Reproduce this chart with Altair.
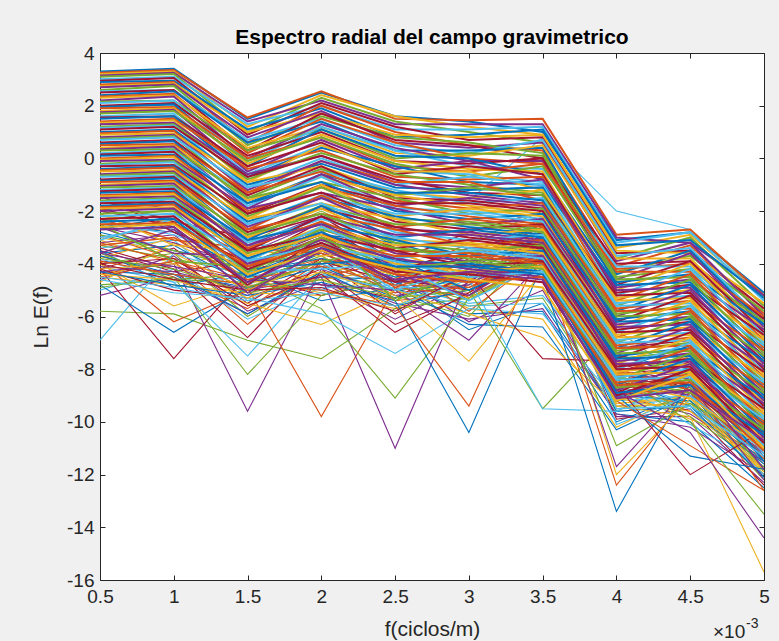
import altair as alt
import pandas as pd

freqs = [0.5, 1.0, 1.5, 2.0, 2.5, 3.0, 3.5, 4.0, 4.5, 5.0]
y_ticks = [-16, -14, -12, -10, -8, -6, -4, -2, 0, 2, 4]
matlab_colors = ["#0072BD", "#D95319", "#EDB120", "#7E2F8E", "#77AC30", "#4DBEEE", "#A2142F"]

upper = [
    [3.3, 3.4, 1.5, 2.5, 1.6, 1.4, 1.0, -3.1, -2.8, -5.1],
    [3.25, 3.35, 1.55, 2.55, 1.5, 1.45, 1.5, -2.9, -2.7, -5.2],
    [3.2, 3.3, 1.2, 2.4, 1.6, 1.2, 0.9, -3.4, -2.9, -5.3],
    [3.15, 3.25, 1.4, 2.2, 1.3, 1.3, 1.3, -3.0, -3.2, -5.2],
    [3.1, 3.2, 1.0, 2.3, 1.4, 1.0, 0.6, -3.8, -3.0, -5.6],
    [3.0, 3.1, 1.3, 2.0, 1.1, 1.1, 1.2, -3.2, -2.8, -5.4],
    [2.95, 3.05, 0.9, 2.1, 1.2, 0.7, 0.8, -3.6, -3.5, -5.7],
    [2.9, 2.95, 1.1, 1.9, 0.8, 0.9, 1.1, -3.3, -3.1, -5.3],
    [2.8, 2.9, 0.6, 2.0, 1.0, 0.5, 0.3, -4.1, -3.3, -5.9],
    [2.75, 2.85, 1.0, 1.7, 0.9, 0.8, 0.9, -3.5, -3.6, -5.5],
    [2.7, 2.8, 0.8, 1.8, 0.6, 0.4, 0.6, -3.9, -3.2, -6.0],
    [2.6, 2.75, 0.5, 1.6, 0.8, 0.6, 0.2, -4.3, -3.7, -5.8],
    [2.55, 2.6, 0.7, 1.5, 0.5, 0.2, 0.7, -3.7, -3.4, -6.2],
    [2.5, 2.6, 0.3, 1.7, 0.7, 0.5, 0.0, -4.0, -3.9, -6.1],
    [2.4, 2.55, 0.6, 1.4, 0.3, 0.3, 0.4, -4.4, -3.5, -6.3],
    [2.35, 2.45, 0.2, 1.5, 0.6, 0.0, -0.2, -4.2, -4.0, -6.0],
    [2.3, 2.4, 0.4, 1.2, 0.2, 0.1, 0.5, -3.8, -3.8, -6.5],
    [2.2, 2.35, 0.0, 1.3, 0.4, -0.1, -0.1, -4.6, -3.6, -6.4],
    [2.15, 2.2, 0.3, 1.1, 0.0, 0.2, 0.1, -4.5, -4.2, -6.2],
    [2.1, 2.2, -0.1, 1.2, 0.3, -0.3, -0.4, -4.1, -4.1, -6.7],
    [2.0, 2.1, 0.1, 1.0, -0.1, -0.2, 0.0, -4.8, -3.9, -6.6],
    [1.95, 2.05, -0.3, 1.1, 0.1, 0.0, -0.6, -4.7, -4.4, -6.3],
    [1.9, 1.95, 0.0, 0.8, -0.3, -0.5, -0.2, -4.3, -4.3, -6.9],
    [1.8, 1.9, -0.2, 0.9, -0.1, -0.4, -0.5, -5.0, -4.0, -6.8],
    [1.75, 1.85, -0.5, 0.7, -0.4, -0.1, -0.8, -4.9, -4.6, -6.5],
    [1.7, 1.8, -0.1, 0.8, -0.2, -0.7, -0.3, -4.6, -4.5, -7.1],
    [1.6, 1.7, -0.6, 0.5, -0.5, -0.6, -0.9, -5.2, -4.2, -7.0],
    [1.55, 1.6, -0.3, 0.6, -0.6, -0.3, -0.6, -5.1, -4.8, -6.7],
    [1.5, 1.6, -0.7, 0.4, -0.3, -0.9, -1.0, -4.8, -4.7, -7.3],
    [1.4, 1.5, -0.4, 0.3, -0.7, -0.8, -0.7, -5.4, -4.4, -7.2],
    [1.35, 1.45, -0.9, 0.5, -0.5, -0.5, -1.2, -5.3, -5.0, -6.9],
    [1.3, 1.35, -0.6, 0.1, -0.9, -1.1, -0.8, -5.0, -4.9, -7.5],
    [1.2, 1.3, -0.8, 0.2, -0.6, -1.0, -1.3, -5.6, -4.6, -7.4],
    [1.15, 1.25, -1.1, 0.0, -1.0, -0.7, -1.0, -5.5, -5.2, -7.1],
    [1.1, 1.2, -0.7, 0.1, -0.8, -1.3, -1.4, -5.2, -5.1, -7.7],
    [1.0, 1.1, -1.0, -0.2, -1.1, -1.2, -1.1, -5.8, -4.8, -7.6],
    [0.95, 1.05, -1.3, -0.1, -0.9, -0.9, -1.6, -5.7, -5.4, -7.3],
    [0.9, 0.95, -0.9, -0.3, -1.3, -1.5, -1.2, -5.4, -5.3, -7.9],
    [0.8, 0.9, -1.2, -0.1, -1.0, -1.4, -1.7, -6.0, -5.0, -7.8],
    [0.75, 0.85, -1.5, -0.4, -1.4, -1.1, -1.4, -5.9, -5.6, -7.5],
    [0.7, 0.8, -1.1, -0.5, -1.2, -1.7, -1.5, -5.6, -5.5, -8.1],
    [0.6, 0.7, -1.4, -0.3, -1.5, -1.6, -1.9, -6.2, -5.2, -8.0],
    [0.55, 0.65, -1.7, -0.6, -1.3, -1.3, -1.6, -6.1, -5.8, -7.7],
    [0.5, 0.55, -1.3, -0.5, -1.6, -1.9, -1.7, -5.8, -5.7, -8.3],
    [0.4, 0.5, -1.6, -0.7, -1.4, -1.8, -2.1, -6.4, -5.4, -8.2],
    [0.35, 0.45, -1.9, -0.6, -1.8, -1.5, -1.8, -6.3, -6.0, -7.9],
    [0.3, 0.35, -1.5, -0.9, -1.5, -2.1, -1.9, -6.0, -5.9, -8.5],
    [0.2, 0.3, -1.8, -0.7, -1.9, -2.0, -2.3, -6.6, -5.6, -8.4],
    [0.15, 0.25, -2.1, -1.0, -1.7, -1.7, -2.0, -6.5, -6.2, -8.1],
    [0.1, 0.15, -1.7, -0.9, -2.0, -2.3, -2.1, -6.2, -6.1, -8.7],
    [0.0, 0.1, -2.0, -1.1, -1.8, -2.2, -2.5, -6.8, -5.8, -8.6],
    [-0.05, 0.05, -2.3, -1.0, -2.2, -1.9, -2.2, -6.7, -6.4, -8.3],
    [-0.1, -0.05, -1.9, -1.3, -1.9, -2.5, -2.3, -6.4, -6.3, -8.9],
    [-0.2, -0.1, -2.2, -1.1, -2.3, -2.4, -2.7, -7.0, -6.0, -8.8],
    [-0.25, -0.15, -2.5, -1.4, -2.1, -2.1, -2.4, -6.9, -6.6, -8.5],
    [-0.3, -0.25, -2.1, -1.3, -2.4, -2.7, -2.5, -6.6, -6.5, -9.1],
    [-0.4, -0.3, -2.4, -1.5, -2.2, -2.6, -2.9, -7.2, -6.2, -9.0],
    [-0.45, -0.35, -2.7, -1.4, -2.6, -2.3, -2.6, -7.1, -6.8, -8.7],
    [-0.5, -0.45, -2.3, -1.7, -2.3, -2.9, -2.7, -6.8, -6.7, -9.3],
    [-0.6, -0.5, -2.6, -1.5, -2.7, -2.8, -3.1, -7.4, -6.4, -9.2],
    [-0.65, -0.55, -2.9, -1.8, -2.5, -2.5, -2.8, -7.3, -7.0, -8.9],
    [-0.7, -0.65, -2.5, -1.7, -2.8, -3.1, -2.9, -7.0, -6.9, -9.5],
    [-0.8, -0.7, -2.8, -1.9, -2.6, -3.0, -3.3, -7.6, -6.6, -9.4],
    [-0.85, -0.75, -3.1, -1.8, -3.0, -2.7, -3.0, -7.5, -7.2, -9.1],
    [-0.9, -0.85, -2.7, -2.1, -2.7, -3.3, -3.1, -7.2, -7.1, -9.7],
    [-1.0, -0.9, -3.0, -1.9, -3.1, -3.2, -3.5, -7.8, -6.8, -9.6],
    [-1.05, -0.95, -3.3, -2.2, -2.9, -2.9, -3.2, -7.7, -7.4, -9.3],
    [-1.1, -1.05, -2.9, -2.1, -3.2, -3.5, -3.3, -7.4, -7.3, -9.9],
    [-1.2, -1.1, -3.2, -2.3, -3.0, -3.4, -3.7, -8.0, -7.0, -9.8],
    [-1.25, -1.15, -3.5, -2.2, -3.4, -3.1, -3.4, -7.9, -7.6, -9.5],
    [-1.3, -1.25, -3.1, -2.5, -3.1, -3.7, -3.5, -7.6, -7.5, -10.1],
    [-1.4, -1.3, -3.4, -2.4, -3.5, -3.6, -3.9, -8.2, -7.2, -10.0],
    [-1.45, -1.35, -3.7, -2.6, -3.3, -3.3, -3.6, -8.1, -7.8, -9.7],
    [-1.5, -1.45, -3.3, -2.5, -3.6, -3.9, -3.7, -7.8, -7.7, -10.3],
    [-1.6, -1.5, -3.6, -2.7, -3.4, -3.8, -4.1, -8.4, -7.4, -10.2],
    [-1.65, -1.55, -3.9, -2.6, -3.8, -3.5, -3.8, -8.3, -8.0, -9.9],
    [-1.7, -1.65, -3.5, -2.9, -3.5, -4.1, -3.9, -8.0, -7.9, -10.5],
    [-1.8, -1.7, -3.8, -2.8, -3.9, -4.0, -4.3, -8.6, -7.6, -10.4],
    [-1.85, -1.75, -4.1, -3.0, -3.7, -3.7, -4.0, -8.5, -8.2, -10.1],
    [-1.9, -1.85, -3.7, -2.9, -4.0, -4.3, -4.1, -8.2, -8.1, -10.7],
    [-2.0, -1.9, -4.0, -3.1, -3.8, -4.2, -4.5, -8.8, -7.8, -10.6],
    [-2.1, -2.0, -4.3, -3.0, -4.2, -3.9, -4.2, -8.7, -8.4, -10.3],
    [-2.2, -2.1, -3.9, -3.3, -3.9, -4.5, -4.3, -8.4, -8.3, -10.9],
    [-2.3, -2.2, -4.2, -3.2, -4.3, -4.4, -4.7, -9.0, -8.0, -10.8],
    [-2.4, -2.3, -4.5, -3.4, -4.1, -4.1, -4.4, -8.9, -8.6, -10.5],
    [-2.5, -2.45, -4.1, -3.3, -4.4, -4.7, -4.5, -8.6, -8.5, -11.1],
    [-2.6, -2.5, -4.4, -3.5, -4.2, -4.6, -4.9, -9.2, -8.2, -11.0],
    [-2.7, -2.6, -4.7, -3.4, -4.6, -4.3, -4.6, -9.1, -8.8, -10.7],
]

middle = [
    [-1.6, -2.4, -3.0, -2.2, -3.9, -2.8, -2.0, -7.2, -6.9, -9.4],
    [-2.0, -1.5, -3.8, -2.9, -3.2, -4.0, -3.0, -8.0, -7.1, -10.0],
    [-2.3, -3.1, -3.4, -3.6, -4.6, -3.2, -2.4, -7.8, -8.1, -10.4],
    [-1.8, -2.0, -4.4, -2.6, -3.6, -4.4, -3.6, -8.6, -7.5, -9.8],
    [-2.6, -3.6, -3.7, -2.8, -4.1, -4.7, -2.9, -7.4, -8.4, -10.9],
    [-2.4, -1.9, -4.9, -3.9, -3.4, -3.6, -3.2, -8.3, -8.9, -10.2],
    [-3.0, -2.5, -3.3, -3.3, -5.0, -4.1, -2.2, -7.0, -7.9, -11.2],
    [-1.4, -2.8, -3.9, -2.4, -4.3, -3.4, -3.4, -8.9, -7.7, -10.6],
    [-2.7, -2.2, -4.2, -4.0, -3.8, -5.0, -3.8, -9.2, -8.0, -11.5],
    [-3.3, -3.0, -4.7, -3.2, -4.9, -3.9, -2.6, -8.0, -8.8, -10.3],
    [-2.1, -3.3, -3.5, -3.7, -3.5, -4.6, -3.1, -8.5, -9.1, -11.0],
    [-3.6, -2.7, -5.1, -3.5, -4.4, -5.2, -3.5, -9.0, -8.2, -11.8],
    [-2.5, -3.9, -4.1, -2.7, -5.4, -4.2, -2.3, -7.6, -7.3, -10.1],
    [-3.1, -2.3, -4.3, -4.2, -4.0, -5.4, -4.0, -9.5, -9.4, -11.3],
    [-1.9, -2.6, -4.8, -3.0, -4.7, -3.7, -2.8, -8.2, -8.6, -10.7],
]

lower = [
    [-2.8, -3.5, -4.0, -3.0, -4.8, -3.6, -2.5, -7.5, -8.0, -11.0],
    [-3.0, -2.6, -4.6, -3.8, -4.2, -4.9, -3.3, -8.8, -7.4, -10.2],
    [-3.1, -4.0, -3.6, -4.4, -3.7, -5.3, -3.9, -9.3, -9.0, -11.6],
    [-3.2, -2.9, -5.0, -3.5, -5.1, -4.2, -2.8, -8.1, -8.6, -10.8],
    [-3.3, -3.8, -4.4, -3.1, -4.5, -5.6, -5.3, -9.6, -8.3, -11.9],
    [-3.4, -3.1, -5.4, -4.1, -3.9, -4.6, -3.5, -8.4, -9.3, -11.2],
    [-3.5, -4.3, -3.9, -4.8, -5.3, -3.8, -2.6, -7.9, -7.7, -10.6],
    [-3.6, -3.3, -4.8, -3.6, -4.7, -5.9, -5.8, -10.0, -8.9, -12.1],
    [-3.7, -4.5, -5.7, -3.9, -4.0, -5.0, -3.1, -8.6, -9.6, -11.4],
    [-3.8, -3.0, -4.2, -4.6, -5.6, -4.4, -3.7, -9.1, -8.1, -10.9],
    [-3.9, -4.1, -5.2, -3.4, -4.4, -6.2, -5.0, -9.8, -9.8, -12.3],
    [-4.0, -3.6, -6.0, -4.3, -5.0, -4.8, -2.9, -8.3, -8.7, -11.3],
    [-4.1, -4.7, -4.5, -5.0, -4.1, -5.4, -3.4, -9.4, -9.1, -11.8],
    [-4.2, -3.4, -5.5, -3.8, -5.9, -4.3, -4.3, -8.9, -8.4, -10.7],
    [-4.3, -4.4, -4.9, -4.5, -4.6, -6.5, -5.5, -9.7, -10.0, -12.5],
    [-4.4, -3.9, -6.3, -4.0, -5.4, -5.1, -3.0, -8.7, -9.4, -11.1],
    [-4.5, -4.8, -5.1, -5.2, -4.3, -5.7, -6.1, -10.2, -8.8, -12.0],
    [-4.6, -3.7, -5.8, -4.7, -6.1, -4.7, -3.8, -9.0, -9.7, -11.5],
    [-4.8, -4.6, -4.7, -3.7, -5.2, -6.0, -3.2, -9.5, -9.2, -12.2],
    [-5.0, -4.2, -6.1, -4.9, -4.8, -5.5, -5.2, -8.5, -10.1, -11.7],
    [-4.2, -5.0, -5.3, -4.2, -6.3, -5.2, -3.3, -9.9, -9.5, -12.4],
    [-3.5, -4.9, -4.3, -5.4, -4.9, -6.3, -6.4, -10.3, -9.0, -11.3],
    [-2.9, -3.8, -5.6, -4.5, -3.9, -5.8, -3.7, -9.2, -8.5, -12.6],
    [-4.7, -3.2, -4.6, -5.1, -5.7, -4.5, -2.7, -8.8, -9.9, -10.9],
    [-5.2, -4.5, -5.9, -4.4, -5.5, -6.1, -5.7, -9.7, -10.2, -12.0],
]

outliers = [
    [-5.8, -5.9, -6.9, -7.6, -5.7, -5.3, -3.8, -7.5, -8.2, -10.5],
    [-6.9, -3.6, -4.5, -4.0, -5.0, -4.6, -3.5, -8.0, -7.8, -10.0],
    [-4.2, -7.6, -4.4, -5.2, -4.6, -5.0, -3.9, -9.0, -8.6, -11.0],
    [-4.8, -6.6, -4.9, -4.1, -5.3, -4.4, -3.4, -8.4, -9.4, -11.6],
    [-3.9, -6.2, -5.0, -3.8, -5.1, -4.9, -3.6, -8.8, -8.9, -10.8],
    [-4.0, -5.6, -4.7, -4.6, -4.2, -5.3, -4.1, -9.3, -9.1, -12.0],
    [-4.3, -4.0, -9.6, -4.2, -5.2, -4.8, -3.2, -8.6, -9.0, -11.3],
    [-4.9, -4.5, -8.2, -5.2, -4.6, -5.4, -3.8, -9.1, -8.7, -11.8],
    [-3.8, -4.7, -7.5, -4.4, -5.0, -5.6, -5.5, -8.7, -9.5, -12.0],
    [-3.4, -4.2, -6.8, -3.9, -4.7, -4.5, -3.5, -8.2, -7.9, -10.6],
    [-3.7, -4.4, -5.9, -4.3, -5.6, -5.0, -3.7, -9.0, -9.2, -11.5],
    [-4.5, -3.9, -4.9, -9.8, -4.9, -5.2, -3.9, -8.9, -8.8, -11.4],
    [-4.4, -4.6, -5.5, -6.3, -5.0, -5.9, -6.8, -9.4, -9.3, -11.9],
    [-4.1, -4.3, -5.0, -4.5, -11.0, -4.5, -3.5, -8.3, -9.0, -11.2],
    [-3.6, -4.6, -4.4, -5.7, -9.1, -5.3, -2.8, -8.0, -9.8, -11.7],
    [-4.6, -5.1, -5.3, -5.9, -7.4, -5.7, -5.9, -9.2, -9.0, -11.4],
    [-4.0, -3.8, -5.6, -4.4, -6.6, -5.1, -3.6, -8.6, -8.3, -10.9],
    [-4.3, -4.8, -5.2, -4.7, -5.4, -10.4, -4.0, -9.6, -9.4, -12.1],
    [-3.9, -4.4, -4.8, -5.0, -5.6, -9.4, -3.3, -8.7, -8.6, -11.0],
    [-4.2, -4.0, -5.3, -4.3, -5.2, -7.7, -4.3, -9.1, -9.6, -11.8],
    [-3.6, -4.1, -4.6, -4.8, -5.0, -6.9, -3.9, -8.4, -8.1, -10.8],
    [-3.8, -4.2, -5.1, -4.6, -5.3, -5.0, -9.5, -6.5, -8.5, -11.0],
    [-4.5, -4.9, -5.4, -5.1, -5.6, -4.6, -9.5, -9.6, -8.2, -11.5],
    [-4.0, -4.6, -5.0, -4.9, -5.8, -4.4, -7.6, -7.7, -8.8, -11.0],
    [-2.5, -2.8, -4.3, -3.8, -4.5, -4.0, -4.5, -13.4, -8.4, -11.0],
    [-3.2, -3.9, -4.6, -4.1, -4.8, -4.9, -3.8, -12.4, -8.9, -11.4],
    [-3.0, -3.6, -5.0, -3.9, -4.4, -4.3, -3.0, -12.0, -9.1, -11.8],
    [-2.6, -3.2, -4.1, -3.6, -4.7, -4.6, -3.5, -11.7, -8.6, -12.2],
    [-2.9, -3.5, -4.2, -3.4, -4.3, -4.5, -3.9, -10.9, -9.3, -10.8],
    [-2.4, -2.9, -3.9, -3.2, -4.1, -3.9, -2.7, -10.1, -9.0, -11.1],
    [-2.0, -2.5, -4.0, -2.9, -4.0, -4.1, -2.2, -8.6, -12.0, -10.3],
    [-2.3, -2.7, -4.4, -3.3, -4.2, -4.4, -2.9, -9.0, -11.3, -11.8],
    [-1.8, -2.3, -3.7, -2.7, -3.6, -3.8, -2.5, -9.2, -10.9, -12.6],
    [-2.2, -2.4, -4.1, -3.1, -4.0, -4.0, -2.8, -9.4, -9.8, -15.7],
    [-1.6, -1.9, -3.6, -2.4, -3.5, -3.6, -2.4, -8.8, -10.4, -14.4],
    [-1.2, -1.4, -3.2, -2.0, -3.3, -3.2, -2.0, -8.2, -10.0, -13.5],
    [0.3, 0.4, -1.4, -0.4, -1.3, -1.6, 0.8, -2.0, -2.7, -5.3],
]

groups = [(lower, 1.1), (outliers, 1.1), (middle, 1.5), (upper, 2.0)]
rows = []
i = 0
for series_list, width in groups:
    for vals in series_list:
        for f, v in zip(freqs, vals):
            rows.append({"s": f"s{i:03d}", "f": f, "v": v,
                         "c": matlab_colors[i % 7], "w": width})
        i += 1
df = pd.DataFrame(rows)

FONT = "Liberation Sans"
AX = "#262626"
x_scale = alt.Scale(domain=[0.5, 5], nice=False, zero=False)
y_scale = alt.Scale(domain=[-16, 4], nice=False, zero=False)

lines = alt.Chart(df).mark_line(clip=True).encode(
    x=alt.X("f:Q", scale=x_scale, axis=alt.Axis(
        orient="bottom", values=freqs, labelExpr="'' + datum.value",
        title="f(ciclos/m)", titleFont=FONT, titleFontSize=21, titleFontWeight="normal",
        titleColor=AX, titlePadding=12, labelFont=FONT, labelFontSize=19, labelColor=AX,
        labelPadding=7, offset=-5, tickSize=5, tickColor=AX, domain=False, grid=False,
        labelFlush=False, labelOverlap=False)),
    y=alt.Y("v:Q", scale=y_scale, axis=alt.Axis(
        orient="left", values=y_ticks, labelExpr="'' + datum.value",
        title="Ln E(f)", titleFont=FONT, titleFontSize=21, titleFontWeight="normal",
        titleColor=AX, titlePadding=15, labelFont=FONT, labelFontSize=19, labelColor=AX,
        labelPadding=6, offset=-5, tickSize=5, tickColor=AX, domain=False, grid=False,
        labelFlush=False, labelOverlap=False)),
    detail="s:N",
    color=alt.Color("c:N", scale=None),
    strokeWidth=alt.StrokeWidth("w:Q", scale=None),
)

frame = alt.Chart(pd.DataFrame({"f": [0.5], "v": [4.0]})).mark_point(opacity=0).encode(
    x=alt.X("f:Q", scale=x_scale, axis=alt.Axis(
        orient="top", values=freqs, labels=False, title=None, offset=-5, tickSize=5,
        tickColor=AX, domain=False, grid=False)),
    y=alt.Y("v:Q", scale=y_scale, axis=alt.Axis(
        orient="right", values=y_ticks, labels=False, title=None, offset=-5, tickSize=5,
        tickColor=AX, domain=False, grid=False)),
)

title_txt = alt.Chart(pd.DataFrame({"t": ["Espectro radial del campo gravimetrico"]})).mark_text(
    font=FONT, fontSize=21, fontWeight="bold", color="black", align="center",
    baseline="alphabetic"
).encode(x=alt.value(332), y=alt.value(-9), text="t:N")

exp_base = alt.Chart(pd.DataFrame({"t": ["×10"]})).mark_text(
    font=FONT, fontSize=19, color=AX, align="left", baseline="alphabetic"
).encode(x=alt.value(613), y=alt.value(585), text="t:N")
exp_sup = alt.Chart(pd.DataFrame({"t": ["-3"]})).mark_text(
    font=FONT, fontSize=14, color=AX, align="left", baseline="alphabetic"
).encode(x=alt.value(646), y=alt.value(575), text="t:N")

chart = alt.layer(lines, frame, title_txt, exp_base, exp_sup).resolve_axis(
    x="independent", y="independent"
).properties(
    width=664, height=527,
    padding={"left": 100, "top": 53, "right": 15, "bottom": 61},
    autosize="none",
    background="#f0f0f0",
).configure_view(fill="white", stroke=AX, strokeWidth=1)

chart.save("out.html", embed_options={"renderer": "svg", "actions": False})
